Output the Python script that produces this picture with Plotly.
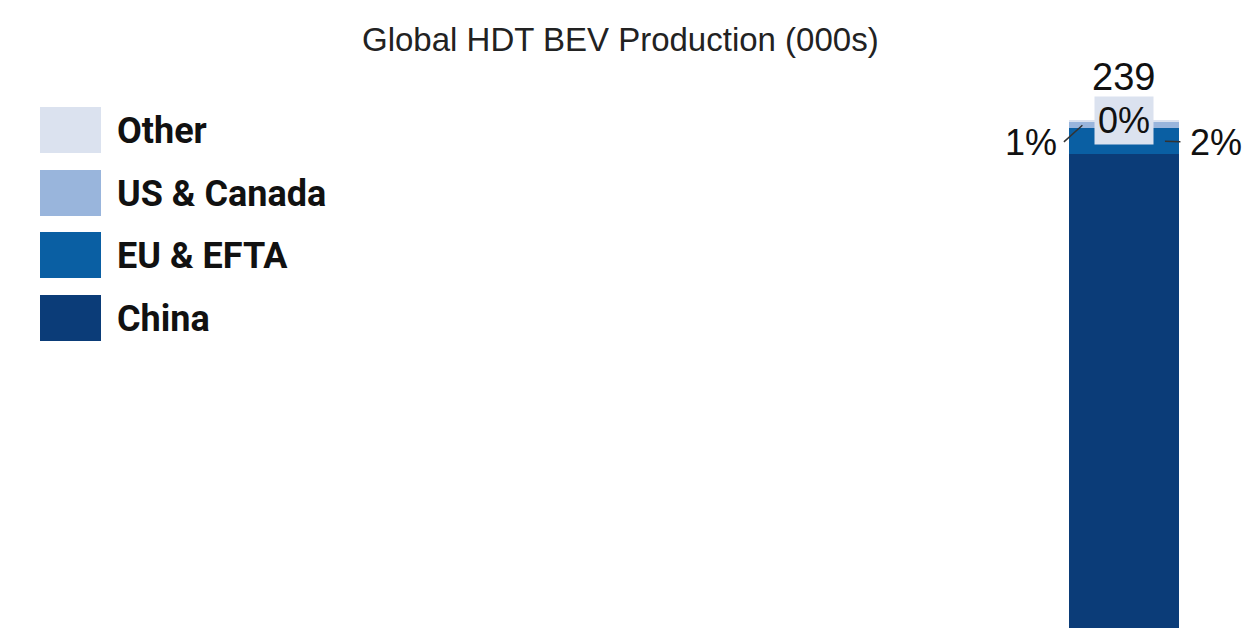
import plotly.graph_objects as go

# Global HDT BEV production, thousands of units, one year
year_pos = [0]
regions = ["China", "EU & EFTA", "US & Canada", "Other"]
values = [232.4, 5.0, 1.2, 0.4]
colors = ["#0b3c78", "#0a5fa3", "#99b5dc", "#dbe2ef"]

total = sum(values)
share = [round(v / total * 100) for v in values]

W, H = 1260, 628
OFF = 8  # page body margin shifts everything by 8px

fig = go.Figure()
for name, v, c in zip(regions, values, colors):
    fig.add_trace(go.Bar(x=year_pos, y=[v], name=name, marker_color=c,
                         marker_line_width=0, width=0.88, showlegend=False))

# custom legend, big squares like the source
legend_top = [107, 170, 232, 295]
for name, c, top in zip(regions[::-1], colors[::-1], legend_top):
    t = top - OFF
    fig.add_shape(type="rect", xref="paper", yref="paper",
                  x0=(40 - OFF) / W, x1=(101 - OFF) / W,
                  y0=1 - (t + 46) / H, y1=1 - t / H,
                  fillcolor=c, line_width=0)
    fig.add_annotation(xref="paper", yref="paper", x=(115 - OFF) / W, y=1 - (t + 24) / H,
                       text="<b>" + name + "</b>", showarrow=False,
                       xanchor="left", yanchor="middle",
                       font=dict(family="Roboto", size=36, color="#111"))

pct_font = dict(family="Liberation Sans", size=36, color="#111")
line_style = dict(arrowhead=0, arrowwidth=1.5, arrowcolor="#333")

# total on top
fig.add_annotation(x=0, y=total, text=str(round(total)), showarrow=False,
                   yanchor="middle", yshift=43,
                   font=dict(family="Liberation Sans", size=38, color="#111"))

# Other share, boxed
fig.add_annotation(x=0, y=total, text=f"{share[3]}%", showarrow=False,
                   yanchor="middle", bgcolor=colors[3], borderpad=3, font=pct_font)

# US & Canada share, left with a diagonal leader
us_mid = values[0] + values[1] + values[2] / 2
fig.add_annotation(x=-0.33, y=us_mid, text="", showarrow=True,
                   ax=-20, ay=18, **line_style)
fig.add_annotation(x=-0.33, y=us_mid, text=f"{share[2]}%", showarrow=False,
                   xshift=-51, yshift=-17, yanchor="middle", font=pct_font)

# EU & EFTA share, right with a short leader
eu_mid = values[0] + values[1] / 2
fig.add_annotation(x=0.325, y=eu_mid, text=f"{share[1]}%", showarrow=True,
                   ax=51, ay=1, startstandoff=8, font=pct_font, **line_style)

fig.add_annotation(xref="paper", yref="paper", x=(620 - OFF) / W, y=1 - (40 - OFF) / H,
                   text="Global HDT BEV Production (000s)", showarrow=False,
                   yanchor="middle",
                   font=dict(family="Liberation Sans", size=33, color="#222"))

# scale chosen so the bar top sits at y=120 and the bar runs off the bottom
fig.update_layout(
    barmode="stack",
    width=W, height=H,
    margin=dict(l=0, r=0, t=0, b=0),
    plot_bgcolor="white", paper_bgcolor="white",
    xaxis=dict(visible=False, type="linear", range=[-8.857, 1.143]),
    yaxis=dict(visible=False, range=[139.77, 260.54]),
)

fig.write_html("out.html")
